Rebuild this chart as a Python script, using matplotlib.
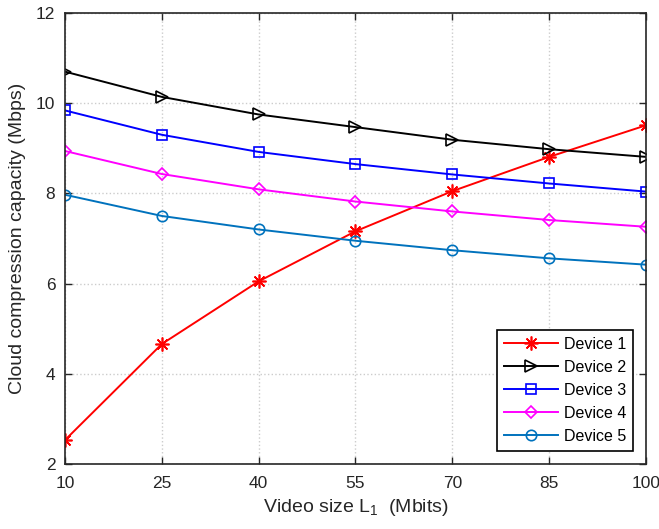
import numpy as np
import matplotlib
matplotlib.use("Agg")
import matplotlib.pyplot as plt

plt.rcParams['font.family'] = ['Liberation Sans', 'DejaVu Sans']
plt.rcParams['mathtext.fontset'] = 'custom'
plt.rcParams['mathtext.rm'] = 'Liberation Sans'
plt.rcParams['mathtext.default'] = 'regular'

# data
video_size = [10, 25, 40, 55, 70, 85, 100]
device1 = [2.53, 4.66, 6.05, 7.16, 8.05, 8.81, 9.51]
device2 = [10.70, 10.14, 9.75, 9.47, 9.19, 8.98, 8.81]
device3 = [9.84, 9.30, 8.92, 8.65, 8.42, 8.22, 8.04]
device4 = [8.94, 8.43, 8.09, 7.82, 7.60, 7.41, 7.26]
device5 = [7.97, 7.50, 7.20, 6.95, 6.74, 6.56, 6.42]
labels = ['Device 1', 'Device 2', 'Device 3', 'Device 4', 'Device 5']

series = [device1, device2, device3, device4, device5]
colors = ['#ff0000', '#000000', '#0000ff', '#ff00ff', '#0072bd']
markers = [(8, 2, 0), '>', 's', 'D', 'o']  # matlab style asterisk
msizes = [10, 9, 6.5, 6.5, 7.5]

fig = plt.figure(figsize=(6.59, 5.29), dpi=100)
ax = fig.add_axes([0.0986, 0.1229, 0.8817, 0.8525])

for y, c, m, ms, lab in zip(series, colors, markers, msizes, labels):
    ax.plot(video_size, y, color=c, marker=m, markersize=ms, markerfacecolor='none',
            markeredgecolor=c, markeredgewidth=1.2, linewidth=1.4, label=lab)

ax.set_xlim(10, 100)
ax.set_ylim(2, 12)
ax.set_xticks(video_size)
ax.set_yticks([2, 4, 6, 8, 10, 12])
ax.grid(True, linestyle=':', color='#cccccc', linewidth=1.0)
ax.set_axisbelow(True)

axc = '#262626'
for s in ax.spines.values():
    s.set_color(axc)
    s.set_linewidth(1.2)
ax.tick_params(direction='in', top=True, right=True, length=5, width=1.0,
               colors=axc, labelsize=12.5)
ax.tick_params(axis='x', pad=9)
ax.tick_params(axis='y', pad=7)

ax.set_xlabel('Video size L$_1$  (Mbits)', fontsize=14, color=axc, labelpad=4)
ax.set_ylabel('Cloud compression capacity (Mbps)', fontsize=14, color=axc, labelpad=7)

leg = ax.legend(loc='lower right', bbox_to_anchor=(0.978, 0.029), fontsize=11.5,
                fancybox=False, framealpha=1, edgecolor='black', handlelength=3.4,
                borderpad=0.45, labelspacing=0.5, handletextpad=0.35, borderaxespad=0)
leg.get_frame().set_linewidth(1.2)

fig.savefig('out.png', dpi=100)
